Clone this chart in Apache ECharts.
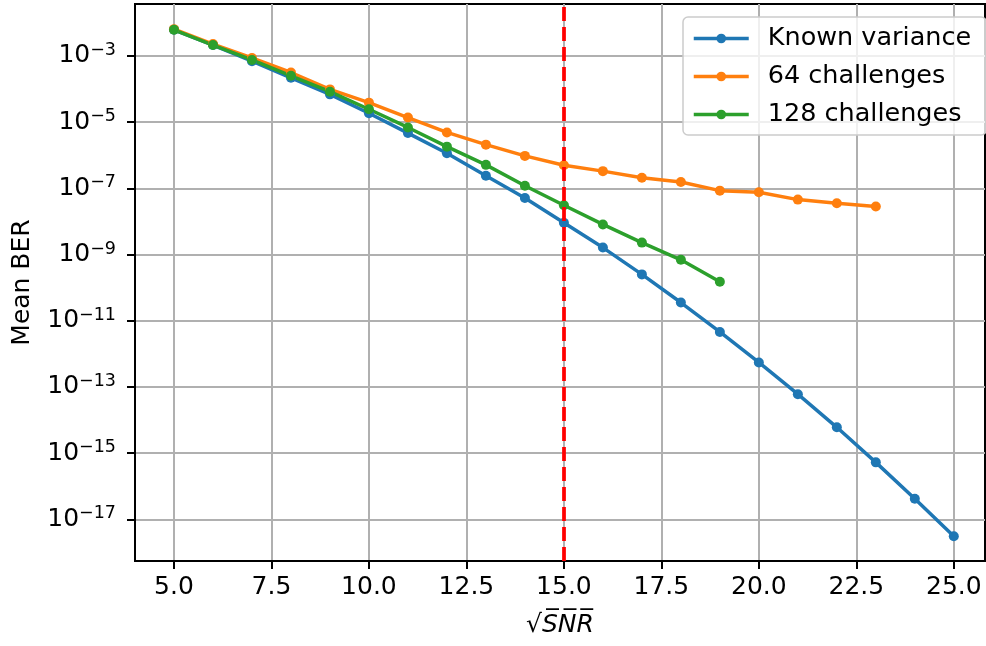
<!DOCTYPE html>
<html>
<head>
<meta charset="utf-8">
<script src="https://cdn.jsdelivr.net/npm/echarts@6/dist/echarts.min.js"></script>
<style>html,body{margin:0;padding:0;background:#fff}#c{width:986px;height:646px}</style>
</head>
<body>
<div id="c"></div>
<script>
// x values (sqrt SNR)
const snr = [5,6,7,8,9,10,11,12,13,14,15,16,17,18,19,20,21,22,23,24,25];
// log10 of mean BER
const knownVarianceExp = [-2.21,-2.67,-3.16,-3.66,-4.16,-4.73,-5.33,-5.94,-6.62,-7.29,-8.04,-8.79,-9.60,-10.45,-11.34,-12.26,-13.22,-14.22,-15.28,-16.38,-17.51];
const ch64Exp = [-2.19,-2.64,-3.06,-3.50,-4.01,-4.41,-4.86,-5.31,-5.68,-6.02,-6.30,-6.48,-6.68,-6.81,-7.07,-7.12,-7.34,-7.45,-7.55];
const ch128Exp = [-2.21,-2.67,-3.12,-3.60,-4.08,-4.61,-5.16,-5.74,-6.29,-6.92,-7.51,-8.09,-8.64,-9.16,-9.82];
const xTicks = [5,7.5,10,12.5,15,17.5,20,22.5,25];
const yTickExps = [-17,-15,-13,-11,-9,-7,-5,-3];
const thresholdX = 15;
const seriesNames = ['Known variance','64 challenges','128 challenges'];

function pts(exps){ return exps.map((e,i)=>[snr[i], Math.pow(10,e)]); }

const chart = echarts.init(document.getElementById('c'), null, {renderer:'canvas'});
const font = 'DejaVu Sans';
const fs = 25;
const colors = ['#1f77b4','#ff7f0e','#2ca02c'];
const lineSeries = (name, data, color, extra) => Object.assign({
  name, type:'line', data, symbol:'circle', symbolSize:10,
  itemStyle:{color}, lineStyle:{color, width:3.5}, z:3
}, extra||{});

chart.setOption({
  animation:false,
  color: colors,
  grid:{left:135, top:4, width:850, height:557, show:true, borderColor:'#000', borderWidth:2, backgroundColor:'transparent'},
  legend:{
    orient:'vertical', left:683, top:17,
    padding:[7,15,6,9], itemGap:9, itemWidth:55, itemHeight:12,
    backgroundColor:'rgba(255,255,255,0.8)', borderColor:'#cccccc', borderWidth:1.5, borderRadius:5,
    lineStyle:{width:3.5},
    textStyle:{fontFamily:font, fontSize:25.5, color:'#000', padding:[0,0,0,14], lineHeight:29},
    data: seriesNames
  },
  xAxis:{
    type:'value', min:4, max:25.8,
    name:'√S̅N̅R̅', nameLocation:'middle', nameGap:52,
    nameTextStyle:{fontFamily:font, fontSize:fs, fontStyle:'italic', color:'#000'},
    axisLine:{show:true, onZero:false, lineStyle:{color:'#000', width:2}},
    axisTick:{show:true, length:8, customValues:xTicks, lineStyle:{color:'#000', width:2}},
    axisLabel:{customValues:xTicks, margin:14, fontFamily:font, fontSize:fs, color:'#000',
      formatter:v=>v.toFixed(1)},
    splitLine:{show:true, lineStyle:{color:'#b0b0b0', width:2}}
  },
  yAxis:{
    type:'log', logBase:10, min:Math.pow(10,-18.26), max:Math.pow(10,-1.43),
    name:'Mean BER', nameLocation:'middle', nameGap:100,
    nameTextStyle:{fontFamily:font, fontSize:fs, color:'#000'},
    axisLine:{show:true, onZero:false, lineStyle:{color:'#000', width:2}},
    axisTick:{show:true, length:8, customValues:yTickExps.map(e=>Math.pow(10,e)), lineStyle:{color:'#000', width:2}},
    axisLabel:{customValues:yTickExps.map(e=>Math.pow(10,e)), margin:19, fontFamily:font, fontSize:fs, color:'#000',
      formatter:v=>{ const e=Math.round(Math.log10(v)); return '{b|10}{s|−'+String(-e)+'}'; },
      rich:{b:{fontFamily:font, fontSize:fs, color:'#000'}, s:{fontFamily:font, fontSize:17.5, color:'#000', padding:[0,0,11,0]}}
    },
    splitLine:{show:true, lineStyle:{color:'#b0b0b0', width:2}}
  },
  series:[
    lineSeries(seriesNames[0], pts(knownVarianceExp), colors[0], {
      markLine:{silent:true, symbol:'none', label:{show:false},
        lineStyle:{color:'#ff0000', width:3.75, type:[14,6]},
        data:[{xAxis:thresholdX}], z:5}
    }),
    lineSeries(seriesNames[1], pts(ch64Exp), colors[1]),
    lineSeries(seriesNames[2], pts(ch128Exp), colors[2])
  ]
});
</script>
</body>
</html>
